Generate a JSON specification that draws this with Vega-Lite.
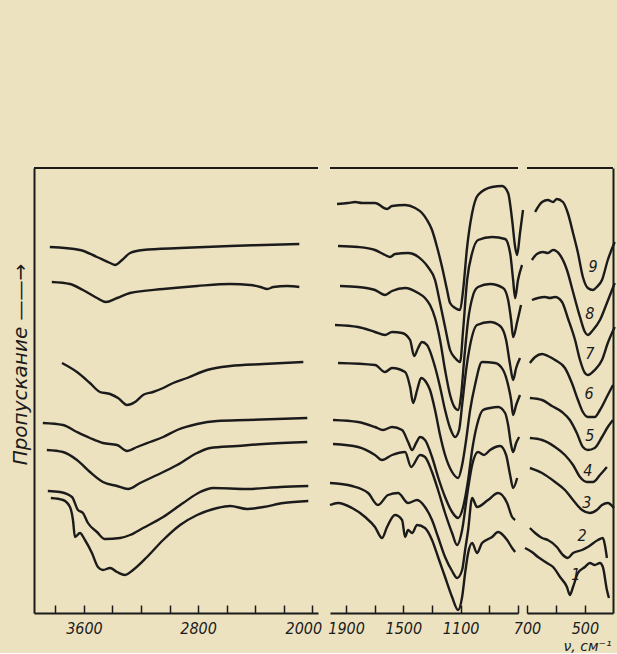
{
  "$schema": "https://vega.github.io/schema/vega-lite/v6.json",
  "background": "#ede2bf",
  "padding": {"left": 10, "top": 167, "right": 2, "bottom": 0},
  "bounds": "flush",
  "config": {
    "view": {"stroke": null},
    "axis": {
      "grid": false,
      "domainColor": "#1b1b1b",
      "domainWidth": 2,
      "tickColor": "#1b1b1b",
      "tickWidth": 1.5,
      "labelColor": "#1b1b1b",
      "labelFont": "DejaVu Sans Condensed",
      "labelFontStyle": "italic",
      "labelFontSize": 16,
      "labelFlush": false,
      "labelOverlap": false,
      "titleColor": "#1b1b1b",
      "titleFont": "DejaVu Sans",
      "titleFontStyle": "italic",
      "titleFontWeight": "normal"
    }
  },
  "datasets": {
    "spectra": [
      {"panel":1,"curve":8,"wn":3839,"T":366},{"panel":1,"curve":8,"wn":3628,"T":363},{"panel":1,"curve":8,"wn":3509,"T":356},{"panel":1,"curve":8,"wn":3417,"T":350},{"panel":1,"curve":8,"wn":3382,"T":348},{"panel":1,"curve":8,"wn":3333,"T":353},{"panel":1,"curve":8,"wn":3277,"T":360},{"panel":1,"curve":8,"wn":3186,"T":363},{"panel":1,"curve":8,"wn":2926,"T":365},{"panel":1,"curve":8,"wn":2575,"T":367},{"panel":1,"curve":8,"wn":2343,"T":368},{"panel":1,"curve":8,"wn":2091,"T":369},
      {"panel":1,"curve":7,"wn":3825,"T":331},{"panel":1,"curve":7,"wn":3698,"T":329},{"panel":1,"curve":7,"wn":3607,"T":323},{"panel":1,"curve":7,"wn":3509,"T":315},{"panel":1,"curve":7,"wn":3446,"T":311},{"panel":1,"curve":7,"wn":3368,"T":315},{"panel":1,"curve":7,"wn":3277,"T":320},{"panel":1,"curve":7,"wn":3045,"T":324},{"panel":1,"curve":7,"wn":2807,"T":327},{"panel":1,"curve":7,"wn":2575,"T":329},{"panel":1,"curve":7,"wn":2435,"T":328},{"panel":1,"curve":7,"wn":2364,"T":326},{"panel":1,"curve":7,"wn":2315,"T":324},{"panel":1,"curve":7,"wn":2273,"T":326},{"panel":1,"curve":7,"wn":2175,"T":327},{"panel":1,"curve":7,"wn":2091,"T":326},
      {"panel":1,"curve":5,"wn":3754,"T":250},{"panel":1,"curve":5,"wn":3649,"T":241},{"panel":1,"curve":5,"wn":3558,"T":230},{"panel":1,"curve":5,"wn":3488,"T":221},{"panel":1,"curve":5,"wn":3417,"T":219},{"panel":1,"curve":5,"wn":3361,"T":215},{"panel":1,"curve":5,"wn":3298,"T":208},{"panel":1,"curve":5,"wn":3242,"T":211},{"panel":1,"curve":5,"wn":3186,"T":218},{"panel":1,"curve":5,"wn":3116,"T":221},{"panel":1,"curve":5,"wn":3045,"T":225},{"panel":1,"curve":5,"wn":2975,"T":230},{"panel":1,"curve":5,"wn":2877,"T":235},{"panel":1,"curve":5,"wn":2737,"T":243},{"panel":1,"curve":5,"wn":2575,"T":247},{"panel":1,"curve":5,"wn":2343,"T":249},{"panel":1,"curve":5,"wn":2063,"T":251},
      {"panel":1,"curve":4,"wn":3888,"T":190},{"panel":1,"curve":4,"wn":3747,"T":188},{"panel":1,"curve":4,"wn":3649,"T":181},{"panel":1,"curve":4,"wn":3558,"T":175},{"panel":1,"curve":4,"wn":3467,"T":170},{"panel":1,"curve":4,"wn":3368,"T":168},{"panel":1,"curve":4,"wn":3298,"T":162},{"panel":1,"curve":4,"wn":3228,"T":166},{"panel":1,"curve":4,"wn":3137,"T":171},{"panel":1,"curve":4,"wn":3045,"T":176},{"panel":1,"curve":4,"wn":2947,"T":183},{"panel":1,"curve":4,"wn":2807,"T":189},{"panel":1,"curve":4,"wn":2666,"T":192},{"panel":1,"curve":4,"wn":2456,"T":193},{"panel":1,"curve":4,"wn":2035,"T":195},
      {"panel":1,"curve":3,"wn":3860,"T":163},{"panel":1,"curve":3,"wn":3747,"T":161},{"panel":1,"curve":3,"wn":3649,"T":153},{"panel":1,"curve":3,"wn":3558,"T":141},{"panel":1,"curve":3,"wn":3467,"T":131},{"panel":1,"curve":3,"wn":3368,"T":127},{"panel":1,"curve":3,"wn":3291,"T":124},{"panel":1,"curve":3,"wn":3207,"T":130},{"panel":1,"curve":3,"wn":3088,"T":138},{"panel":1,"curve":3,"wn":2947,"T":148},{"panel":1,"curve":3,"wn":2807,"T":160},{"panel":1,"curve":3,"wn":2716,"T":165},{"panel":1,"curve":3,"wn":2526,"T":167},{"panel":1,"curve":3,"wn":2343,"T":169},{"panel":1,"curve":3,"wn":2035,"T":171},
      {"panel":1,"curve":2,"wn":3853,"T":122},{"panel":1,"curve":2,"wn":3768,"T":121},{"panel":1,"curve":2,"wn":3684,"T":116},{"panel":1,"curve":2,"wn":3642,"T":103},{"panel":1,"curve":2,"wn":3607,"T":100},{"panel":1,"curve":2,"wn":3572,"T":90},{"panel":1,"curve":2,"wn":3509,"T":81},{"panel":1,"curve":2,"wn":3453,"T":74},{"panel":1,"curve":2,"wn":3347,"T":75},{"panel":1,"curve":2,"wn":3277,"T":78},{"panel":1,"curve":2,"wn":3186,"T":85},{"panel":1,"curve":2,"wn":3045,"T":96},{"panel":1,"curve":2,"wn":2905,"T":110},{"panel":1,"curve":2,"wn":2786,"T":121},{"panel":1,"curve":2,"wn":2694,"T":125},{"panel":1,"curve":2,"wn":2456,"T":124},{"panel":1,"curve":2,"wn":2224,"T":126},{"panel":1,"curve":2,"wn":2028,"T":127},
      {"panel":1,"curve":1,"wn":3832,"T":115},{"panel":1,"curve":1,"wn":3747,"T":113},{"panel":1,"curve":1,"wn":3698,"T":106},{"panel":1,"curve":1,"wn":3677,"T":93},{"panel":1,"curve":1,"wn":3663,"T":76},{"panel":1,"curve":1,"wn":3628,"T":80},{"panel":1,"curve":1,"wn":3593,"T":73},{"panel":1,"curve":1,"wn":3544,"T":60},{"panel":1,"curve":1,"wn":3502,"T":46},{"panel":1,"curve":1,"wn":3467,"T":43},{"panel":1,"curve":1,"wn":3417,"T":45},{"panel":1,"curve":1,"wn":3368,"T":41},{"panel":1,"curve":1,"wn":3312,"T":38},{"panel":1,"curve":1,"wn":3256,"T":43},{"panel":1,"curve":1,"wn":3158,"T":56},{"panel":1,"curve":1,"wn":3045,"T":73},{"panel":1,"curve":1,"wn":2926,"T":88},{"panel":1,"curve":1,"wn":2807,"T":98},{"panel":1,"curve":1,"wn":2666,"T":105},{"panel":1,"curve":1,"wn":2575,"T":107},{"panel":1,"curve":1,"wn":2456,"T":104},{"panel":1,"curve":1,"wn":2343,"T":106},{"panel":1,"curve":1,"wn":2203,"T":110},{"panel":1,"curve":1,"wn":2028,"T":112},

      {"panel":2,"curve":9,"wn":1963,"T":409},{"panel":2,"curve":9,"wn":1886,"T":410},{"panel":2,"curve":9,"wn":1837,"T":411},{"panel":2,"curve":9,"wn":1788,"T":410},{"panel":2,"curve":9,"wn":1698,"T":410},{"panel":2,"curve":9,"wn":1614,"T":404},{"panel":2,"curve":9,"wn":1579,"T":407},{"panel":2,"curve":9,"wn":1488,"T":408},{"panel":2,"curve":9,"wn":1418,"T":405},{"panel":2,"curve":9,"wn":1370,"T":400},{"panel":2,"curve":9,"wn":1335,"T":393},{"panel":2,"curve":9,"wn":1300,"T":383},{"panel":2,"curve":9,"wn":1265,"T":366},{"panel":2,"curve":9,"wn":1230,"T":346},{"panel":2,"curve":9,"wn":1195,"T":323},{"panel":2,"curve":9,"wn":1174,"T":310},{"panel":2,"curve":9,"wn":1139,"T":305},{"panel":2,"curve":9,"wn":1104,"T":303},{"panel":2,"curve":9,"wn":1083,"T":323},{"panel":2,"curve":9,"wn":1055,"T":366},{"panel":2,"curve":9,"wn":1020,"T":400},{"panel":2,"curve":9,"wn":979,"T":418},{"panel":2,"curve":9,"wn":881,"T":426},{"panel":2,"curve":9,"wn":811,"T":427},{"panel":2,"curve":9,"wn":769,"T":420},{"panel":2,"curve":9,"wn":741,"T":393},{"panel":2,"curve":9,"wn":720,"T":366},{"panel":2,"curve":9,"wn":706,"T":358},{"panel":2,"curve":9,"wn":686,"T":380},{"panel":2,"curve":9,"wn":665,"T":403},
      {"panel":2,"curve":8,"wn":1956,"T":367},{"panel":2,"curve":8,"wn":1816,"T":366},{"panel":2,"curve":8,"wn":1698,"T":363},{"panel":2,"curve":8,"wn":1628,"T":358},{"panel":2,"curve":8,"wn":1593,"T":356},{"panel":2,"curve":8,"wn":1558,"T":359},{"panel":2,"curve":8,"wn":1467,"T":360},{"panel":2,"curve":8,"wn":1370,"T":353},{"panel":2,"curve":8,"wn":1328,"T":346},{"panel":2,"curve":8,"wn":1279,"T":333},{"panel":2,"curve":8,"wn":1244,"T":310},{"panel":2,"curve":8,"wn":1209,"T":286},{"panel":2,"curve":8,"wn":1174,"T":263},{"panel":2,"curve":8,"wn":1139,"T":255},{"panel":2,"curve":8,"wn":1104,"T":251},{"panel":2,"curve":8,"wn":1083,"T":283},{"panel":2,"curve":8,"wn":1055,"T":333},{"panel":2,"curve":8,"wn":1020,"T":360},{"panel":2,"curve":8,"wn":979,"T":373},{"panel":2,"curve":8,"wn":881,"T":376},{"panel":2,"curve":8,"wn":790,"T":374},{"panel":2,"curve":8,"wn":755,"T":360},{"panel":2,"curve":8,"wn":734,"T":333},{"panel":2,"curve":8,"wn":720,"T":315},{"panel":2,"curve":8,"wn":700,"T":333},{"panel":2,"curve":8,"wn":672,"T":348},
      {"panel":2,"curve":7,"wn":1942,"T":327},{"panel":2,"curve":7,"wn":1816,"T":326},{"panel":2,"curve":7,"wn":1698,"T":323},{"panel":2,"curve":7,"wn":1628,"T":318},{"panel":2,"curve":7,"wn":1579,"T":322},{"panel":2,"curve":7,"wn":1488,"T":325},{"panel":2,"curve":7,"wn":1397,"T":320},{"panel":2,"curve":7,"wn":1349,"T":315},{"panel":2,"curve":7,"wn":1314,"T":308},{"panel":2,"curve":7,"wn":1279,"T":295},{"panel":2,"curve":7,"wn":1244,"T":273},{"panel":2,"curve":7,"wn":1209,"T":243},{"panel":2,"curve":7,"wn":1174,"T":218},{"panel":2,"curve":7,"wn":1139,"T":205},{"panel":2,"curve":7,"wn":1118,"T":203},{"panel":2,"curve":7,"wn":1097,"T":218},{"panel":2,"curve":7,"wn":1076,"T":253},{"panel":2,"curve":7,"wn":1048,"T":293},{"panel":2,"curve":7,"wn":1013,"T":318},{"panel":2,"curve":7,"wn":979,"T":326},{"panel":2,"curve":7,"wn":895,"T":329},{"panel":2,"curve":7,"wn":804,"T":325},{"panel":2,"curve":7,"wn":769,"T":313},{"panel":2,"curve":7,"wn":748,"T":293},{"panel":2,"curve":7,"wn":734,"T":276},{"panel":2,"curve":7,"wn":706,"T":291},{"panel":2,"curve":7,"wn":679,"T":308},
      {"panel":2,"curve":6,"wn":1977,"T":288},{"panel":2,"curve":6,"wn":1816,"T":286},{"panel":2,"curve":6,"wn":1698,"T":281},{"panel":2,"curve":6,"wn":1628,"T":278},{"panel":2,"curve":6,"wn":1579,"T":281},{"panel":2,"curve":6,"wn":1509,"T":280},{"panel":2,"curve":6,"wn":1453,"T":273},{"panel":2,"curve":6,"wn":1425,"T":257},{"panel":2,"curve":6,"wn":1397,"T":265},{"panel":2,"curve":6,"wn":1370,"T":271},{"panel":2,"curve":6,"wn":1335,"T":268},{"panel":2,"curve":6,"wn":1279,"T":246},{"panel":2,"curve":6,"wn":1244,"T":226},{"panel":2,"curve":6,"wn":1209,"T":203},{"panel":2,"curve":6,"wn":1174,"T":185},{"panel":2,"curve":6,"wn":1139,"T":176},{"panel":2,"curve":6,"wn":1111,"T":183},{"panel":2,"curve":6,"wn":1090,"T":208},{"panel":2,"curve":6,"wn":1062,"T":243},{"panel":2,"curve":6,"wn":1034,"T":268},{"panel":2,"curve":6,"wn":986,"T":288},{"panel":2,"curve":6,"wn":895,"T":291},{"panel":2,"curve":6,"wn":825,"T":287},{"panel":2,"curve":6,"wn":783,"T":273},{"panel":2,"curve":6,"wn":755,"T":248},{"panel":2,"curve":6,"wn":734,"T":233},{"panel":2,"curve":6,"wn":713,"T":245},{"panel":2,"curve":6,"wn":686,"T":255},
      {"panel":2,"curve":5,"wn":1956,"T":250},{"panel":2,"curve":5,"wn":1698,"T":248},{"panel":2,"curve":5,"wn":1628,"T":241},{"panel":2,"curve":5,"wn":1579,"T":245},{"panel":2,"curve":5,"wn":1488,"T":241},{"panel":2,"curve":5,"wn":1453,"T":226},{"panel":2,"curve":5,"wn":1432,"T":210},{"panel":2,"curve":5,"wn":1404,"T":223},{"panel":2,"curve":5,"wn":1376,"T":235},{"panel":2,"curve":5,"wn":1342,"T":231},{"panel":2,"curve":5,"wn":1314,"T":223},{"panel":2,"curve":5,"wn":1279,"T":203},{"panel":2,"curve":5,"wn":1244,"T":178},{"panel":2,"curve":5,"wn":1209,"T":158},{"panel":2,"curve":5,"wn":1160,"T":141},{"panel":2,"curve":5,"wn":1118,"T":135},{"panel":2,"curve":5,"wn":1090,"T":148},{"panel":2,"curve":5,"wn":1062,"T":173},{"panel":2,"curve":5,"wn":1034,"T":203},{"panel":2,"curve":5,"wn":1000,"T":228},{"panel":2,"curve":5,"wn":951,"T":251},{"panel":2,"curve":5,"wn":860,"T":250},{"panel":2,"curve":5,"wn":804,"T":243},{"panel":2,"curve":5,"wn":769,"T":228},{"panel":2,"curve":5,"wn":748,"T":213},{"panel":2,"curve":5,"wn":734,"T":198},{"panel":2,"curve":5,"wn":713,"T":208},{"panel":2,"curve":5,"wn":686,"T":218},
      {"panel":2,"curve":4,"wn":1991,"T":193},{"panel":2,"curve":4,"wn":1816,"T":191},{"panel":2,"curve":4,"wn":1698,"T":186},{"panel":2,"curve":4,"wn":1642,"T":183},{"panel":2,"curve":4,"wn":1579,"T":186},{"panel":2,"curve":4,"wn":1509,"T":183},{"panel":2,"curve":4,"wn":1467,"T":171},{"panel":2,"curve":4,"wn":1439,"T":163},{"panel":2,"curve":4,"wn":1411,"T":170},{"panel":2,"curve":4,"wn":1383,"T":176},{"panel":2,"curve":4,"wn":1349,"T":173},{"panel":2,"curve":4,"wn":1300,"T":156},{"panel":2,"curve":4,"wn":1258,"T":136},{"panel":2,"curve":4,"wn":1209,"T":116},{"panel":2,"curve":4,"wn":1160,"T":101},{"panel":2,"curve":4,"wn":1118,"T":95},{"panel":2,"curve":4,"wn":1083,"T":106},{"panel":2,"curve":4,"wn":1048,"T":133},{"panel":2,"curve":4,"wn":1020,"T":163},{"panel":2,"curve":4,"wn":986,"T":188},{"panel":2,"curve":4,"wn":944,"T":203},{"panel":2,"curve":4,"wn":895,"T":205},{"panel":2,"curve":4,"wn":839,"T":206},{"panel":2,"curve":4,"wn":790,"T":200},{"panel":2,"curve":4,"wn":769,"T":188},{"panel":2,"curve":4,"wn":748,"T":168},{"panel":2,"curve":4,"wn":734,"T":161},{"panel":2,"curve":4,"wn":713,"T":170},{"panel":2,"curve":4,"wn":692,"T":176},
      {"panel":2,"curve":3,"wn":1991,"T":169},{"panel":2,"curve":3,"wn":1816,"T":166},{"panel":2,"curve":3,"wn":1698,"T":158},{"panel":2,"curve":3,"wn":1649,"T":153},{"panel":2,"curve":3,"wn":1579,"T":158},{"panel":2,"curve":3,"wn":1488,"T":161},{"panel":2,"curve":3,"wn":1446,"T":146},{"panel":2,"curve":3,"wn":1383,"T":158},{"panel":2,"curve":3,"wn":1349,"T":156},{"panel":2,"curve":3,"wn":1300,"T":141},{"panel":2,"curve":3,"wn":1258,"T":123},{"panel":2,"curve":3,"wn":1209,"T":100},{"panel":2,"curve":3,"wn":1160,"T":80},{"panel":2,"curve":3,"wn":1125,"T":68},{"panel":2,"curve":3,"wn":1090,"T":83},{"panel":2,"curve":3,"wn":1055,"T":118},{"panel":2,"curve":3,"wn":1020,"T":148},{"panel":2,"curve":3,"wn":979,"T":161},{"panel":2,"curve":3,"wn":937,"T":158},{"panel":2,"curve":3,"wn":895,"T":163},{"panel":2,"curve":3,"wn":825,"T":167},{"panel":2,"curve":3,"wn":783,"T":158},{"panel":2,"curve":3,"wn":755,"T":138},{"panel":2,"curve":3,"wn":734,"T":125},{"panel":2,"curve":3,"wn":706,"T":135},
      {"panel":2,"curve":2,"wn":2012,"T":130},{"panel":2,"curve":2,"wn":1858,"T":127},{"panel":2,"curve":2,"wn":1746,"T":120},{"panel":2,"curve":2,"wn":1677,"T":108},{"panel":2,"curve":2,"wn":1607,"T":118},{"panel":2,"curve":2,"wn":1537,"T":120},{"panel":2,"curve":2,"wn":1467,"T":110},{"panel":2,"curve":2,"wn":1404,"T":113},{"panel":2,"curve":2,"wn":1349,"T":106},{"panel":2,"curve":2,"wn":1300,"T":93},{"panel":2,"curve":2,"wn":1258,"T":76},{"panel":2,"curve":2,"wn":1209,"T":56},{"panel":2,"curve":2,"wn":1160,"T":42},{"panel":2,"curve":2,"wn":1125,"T":35},{"panel":2,"curve":2,"wn":1090,"T":43},{"panel":2,"curve":2,"wn":1069,"T":63},{"panel":2,"curve":2,"wn":1048,"T":83},{"panel":2,"curve":2,"wn":1020,"T":115},{"panel":2,"curve":2,"wn":986,"T":106},{"panel":2,"curve":2,"wn":909,"T":113},{"panel":2,"curve":2,"wn":839,"T":120},{"panel":2,"curve":2,"wn":776,"T":110},{"panel":2,"curve":2,"wn":741,"T":96},{"panel":2,"curve":2,"wn":720,"T":93},
      {"panel":2,"curve":1,"wn":2012,"T":108},{"panel":2,"curve":1,"wn":1956,"T":110},{"panel":2,"curve":1,"wn":1858,"T":105},{"panel":2,"curve":1,"wn":1767,"T":96},{"panel":2,"curve":1,"wn":1698,"T":86},{"panel":2,"curve":1,"wn":1649,"T":75},{"panel":2,"curve":1,"wn":1614,"T":86},{"panel":2,"curve":1,"wn":1558,"T":98},{"panel":2,"curve":1,"wn":1509,"T":93},{"panel":2,"curve":1,"wn":1488,"T":76},{"panel":2,"curve":1,"wn":1467,"T":83},{"panel":2,"curve":1,"wn":1439,"T":80},{"panel":2,"curve":1,"wn":1404,"T":88},{"panel":2,"curve":1,"wn":1349,"T":85},{"panel":2,"curve":1,"wn":1300,"T":73},{"panel":2,"curve":1,"wn":1258,"T":56},{"panel":2,"curve":1,"wn":1209,"T":36},{"panel":2,"curve":1,"wn":1160,"T":16},{"panel":2,"curve":1,"wn":1118,"T":3},{"panel":2,"curve":1,"wn":1090,"T":16},{"panel":2,"curve":1,"wn":1069,"T":40},{"panel":2,"curve":1,"wn":1048,"T":60},{"panel":2,"curve":1,"wn":1020,"T":70},{"panel":2,"curve":1,"wn":986,"T":60},{"panel":2,"curve":1,"wn":951,"T":70},{"panel":2,"curve":1,"wn":881,"T":76},{"panel":2,"curve":1,"wn":839,"T":81},{"panel":2,"curve":1,"wn":776,"T":73},{"panel":2,"curve":1,"wn":741,"T":65},{"panel":2,"curve":1,"wn":720,"T":61},

      {"panel":3,"curve":9,"wn":672,"T":401},{"panel":3,"curve":9,"wn":648,"T":411},{"panel":3,"curve":9,"wn":628,"T":413},{"panel":3,"curve":9,"wn":610,"T":411},{"panel":3,"curve":9,"wn":597,"T":414},{"panel":3,"curve":9,"wn":576,"T":411},{"panel":3,"curve":9,"wn":559,"T":400},{"panel":3,"curve":9,"wn":541,"T":380},{"panel":3,"curve":9,"wn":524,"T":360},{"panel":3,"curve":9,"wn":507,"T":336},{"panel":3,"curve":9,"wn":490,"T":325},{"panel":3,"curve":9,"wn":472,"T":323},{"panel":3,"curve":9,"wn":459,"T":326},{"panel":3,"curve":9,"wn":441,"T":333},{"panel":3,"curve":9,"wn":421,"T":353},{"panel":3,"curve":9,"wn":397,"T":371},
      {"panel":3,"curve":8,"wn":683,"T":353},{"panel":3,"curve":8,"wn":666,"T":359},{"panel":3,"curve":8,"wn":645,"T":361},{"panel":3,"curve":8,"wn":628,"T":360},{"panel":3,"curve":8,"wn":610,"T":363},{"panel":3,"curve":8,"wn":586,"T":358},{"panel":3,"curve":8,"wn":562,"T":343},{"panel":3,"curve":8,"wn":541,"T":321},{"panel":3,"curve":8,"wn":517,"T":296},{"panel":3,"curve":8,"wn":500,"T":281},{"panel":3,"curve":8,"wn":490,"T":278},{"panel":3,"curve":8,"wn":472,"T":283},{"panel":3,"curve":8,"wn":448,"T":293},{"panel":3,"curve":8,"wn":424,"T":310},{"panel":3,"curve":8,"wn":397,"T":330},
      {"panel":3,"curve":7,"wn":683,"T":313},{"panel":3,"curve":7,"wn":662,"T":315},{"panel":3,"curve":7,"wn":638,"T":316},{"panel":3,"curve":7,"wn":621,"T":315},{"panel":3,"curve":7,"wn":603,"T":316},{"panel":3,"curve":7,"wn":579,"T":311},{"panel":3,"curve":7,"wn":559,"T":295},{"panel":3,"curve":7,"wn":534,"T":273},{"panel":3,"curve":7,"wn":517,"T":253},{"panel":3,"curve":7,"wn":500,"T":240},{"panel":3,"curve":7,"wn":490,"T":238},{"panel":3,"curve":7,"wn":466,"T":243},{"panel":3,"curve":7,"wn":441,"T":253},{"panel":3,"curve":7,"wn":421,"T":270},{"panel":3,"curve":7,"wn":397,"T":286},
      {"panel":3,"curve":6,"wn":690,"T":250},{"panel":3,"curve":6,"wn":672,"T":256},{"panel":3,"curve":6,"wn":648,"T":259},{"panel":3,"curve":6,"wn":628,"T":257},{"panel":3,"curve":6,"wn":603,"T":253},{"panel":3,"curve":6,"wn":569,"T":245},{"panel":3,"curve":6,"wn":545,"T":230},{"panel":3,"curve":6,"wn":524,"T":213},{"panel":3,"curve":6,"wn":507,"T":201},{"panel":3,"curve":6,"wn":490,"T":196},{"panel":3,"curve":6,"wn":466,"T":196},{"panel":3,"curve":6,"wn":448,"T":203},{"panel":3,"curve":6,"wn":421,"T":218},{"panel":3,"curve":6,"wn":403,"T":228},
      {"panel":3,"curve":5,"wn":690,"T":215},{"panel":3,"curve":5,"wn":648,"T":213},{"panel":3,"curve":5,"wn":614,"T":207},{"panel":3,"curve":5,"wn":579,"T":201},{"panel":3,"curve":5,"wn":552,"T":193},{"panel":3,"curve":5,"wn":528,"T":180},{"panel":3,"curve":5,"wn":507,"T":166},{"panel":3,"curve":5,"wn":490,"T":163},{"panel":3,"curve":5,"wn":466,"T":165},{"panel":3,"curve":5,"wn":441,"T":176},{"panel":3,"curve":5,"wn":421,"T":186},{"panel":3,"curve":5,"wn":403,"T":193},
      {"panel":3,"curve":4,"wn":690,"T":175},{"panel":3,"curve":4,"wn":648,"T":173},{"panel":3,"curve":4,"wn":603,"T":166},{"panel":3,"curve":4,"wn":569,"T":158},{"panel":3,"curve":4,"wn":541,"T":148},{"panel":3,"curve":4,"wn":517,"T":136},{"panel":3,"curve":4,"wn":493,"T":131},{"panel":3,"curve":4,"wn":472,"T":131},{"panel":3,"curve":4,"wn":448,"T":138},{"panel":3,"curve":4,"wn":424,"T":146},
      {"panel":3,"curve":3,"wn":690,"T":145},{"panel":3,"curve":3,"wn":648,"T":140},{"panel":3,"curve":3,"wn":603,"T":131},{"panel":3,"curve":3,"wn":569,"T":123},{"panel":3,"curve":3,"wn":541,"T":113},{"panel":3,"curve":3,"wn":510,"T":103},{"panel":3,"curve":3,"wn":483,"T":100},{"panel":3,"curve":3,"wn":459,"T":103},{"panel":3,"curve":3,"wn":441,"T":108},{"panel":3,"curve":3,"wn":421,"T":110},{"panel":3,"curve":3,"wn":400,"T":105},
      {"panel":3,"curve":2,"wn":690,"T":85},{"panel":3,"curve":2,"wn":672,"T":80},{"panel":3,"curve":2,"wn":648,"T":75},{"panel":3,"curve":2,"wn":628,"T":73},{"panel":3,"curve":2,"wn":597,"T":66},{"panel":3,"curve":2,"wn":576,"T":58},{"panel":3,"curve":2,"wn":559,"T":55},{"panel":3,"curve":2,"wn":541,"T":60},{"panel":3,"curve":2,"wn":510,"T":63},{"panel":3,"curve":2,"wn":490,"T":66},{"panel":3,"curve":2,"wn":455,"T":73},{"panel":3,"curve":2,"wn":438,"T":75},{"panel":3,"curve":2,"wn":431,"T":68},{"panel":3,"curve":2,"wn":424,"T":55},
      {"panel":3,"curve":1,"wn":707,"T":65},{"panel":3,"curve":1,"wn":683,"T":61},{"panel":3,"curve":1,"wn":662,"T":56},{"panel":3,"curve":1,"wn":631,"T":50},{"panel":3,"curve":1,"wn":610,"T":46},{"panel":3,"curve":1,"wn":586,"T":36},{"panel":3,"curve":1,"wn":562,"T":26},{"panel":3,"curve":1,"wn":552,"T":18},{"panel":3,"curve":1,"wn":541,"T":26},{"panel":3,"curve":1,"wn":524,"T":40},{"panel":3,"curve":1,"wn":500,"T":46},{"panel":3,"curve":1,"wn":483,"T":50},{"panel":3,"curve":1,"wn":466,"T":48},{"panel":3,"curve":1,"wn":448,"T":50},{"panel":3,"curve":1,"wn":438,"T":46},{"panel":3,"curve":1,"wn":424,"T":23},{"panel":3,"curve":1,"wn":417,"T":15}
    ],
    "labels": [
      {"label":"9","wn":472,"T":346},{"label":"8","wn":483,"T":299},{"label":"7","wn":483,"T":259},{"label":"6","wn":486,"T":219},{"label":"5","wn":483,"T":177},{"label":"4","wn":490,"T":142},{"label":"3","wn":493,"T":110},{"label":"2","wn":510,"T":77},{"label":"1","wn":531,"T":38}
    ],
    "top": [{"T": 445}]
  },
  "spacing": 12,
  "hconcat": [
    {
      "width": 284,
      "height": 445,
      "layer": [
        {
          "data": {"name": "top"},
          "mark": {"type": "rule", "color": "#1b1b1b", "strokeWidth": 1.8},
          "encoding": {
            "y": {"field": "T", "type": "quantitative",
                  "scale": {"domain": [0, 445], "nice": false, "zero": false},
                  "axis": {"orient": "left", "ticks": false, "labels": false,
                           "title": "Пропускание  ——→", "titleFontSize": 20, "titleAngle": -90,
                           "titleX": -14, "titleY": 196, "titleAlign": "center", "titleBaseline": "middle"}}
          }
        },
        {
          "data": {"name": "spectra"},
          "transform": [{"filter": "datum.panel == 1"}],
          "mark": {"type": "line", "color": "#1b1b1b", "strokeWidth": 2.4, "interpolate": "monotone"},
          "encoding": {
            "x": {"field": "wn", "type": "quantitative",
                  "scale": {"domain": [3950, 1960], "nice": false, "zero": false},
                  "axis": {"orient": "bottom", "title": null, "tickSize": -8, "labelPadding": 15,
                           "values": [3800, 3600, 3400, 3200, 3000, 2800, 2600, 2400, 2200, 2000],
                           "labelExpr": "indexof([3600, 2800, 2000], datum.value) >= 0 ? '' + datum.value : ''",
                           "labelOffset": {"condition": {"test": "datum.value == 2000", "value": -9}, "value": 0}}},
            "y": {"field": "T", "type": "quantitative",
                  "scale": {"domain": [0, 445], "nice": false, "zero": false},
                  "axis": {"orient": "left", "ticks": false, "labels": false,
                           "title": "Пропускание  ——→", "titleFontSize": 20, "titleAngle": -90,
                           "titleX": -14, "titleY": 196, "titleAlign": "center", "titleBaseline": "middle"}},
            "detail": {"field": "curve"}
          }
        }
      ]
    },
    {
      "spacing": 9,
      "bounds": "flush",
      "hconcat": [
        {
          "width": 188,
          "height": 445,
          "layer": [
            {
              "data": {"name": "top"},
              "mark": {"type": "rule", "color": "#1b1b1b", "strokeWidth": 1.8},
              "encoding": {"y": {"field": "T", "type": "quantitative", "scale": {"domain": [0, 445], "nice": false, "zero": false}, "axis": null}}
            },
            {
              "data": {"name": "spectra"},
              "transform": [{"filter": "datum.panel == 2"}],
              "mark": {"type": "line", "color": "#1b1b1b", "strokeWidth": 2.4, "interpolate": "monotone"},
              "encoding": {
                "x": {"field": "wn", "type": "quantitative",
                      "scale": {"domain": [2012, 700], "nice": false, "zero": false},
                      "axis": {"orient": "bottom", "title": null, "tickSize": -8, "labelPadding": 15,
                               "values": [1900, 1700, 1500, 1300, 1100, 900, 700],
                               "labelExpr": "indexof([1900, 1500, 1100], datum.value) >= 0 ? '' + datum.value : ''"}},
                "y": {"field": "T", "type": "quantitative",
                      "scale": {"domain": [0, 445], "nice": false, "zero": false},
                      "axis": null},
                "detail": {"field": "curve"}
              }
            }
          ]
        },
        {
          "width": 86,
          "height": 445,
          "layer": [
            {
              "data": {"name": "top"},
              "mark": {"type": "rule", "color": "#1b1b1b", "strokeWidth": 1.8},
              "encoding": {"y": {"field": "T", "type": "quantitative",
                      "scale": {"domain": [0, 445], "nice": false, "zero": false},
                      "axis": {"orient": "right", "ticks": false, "labels": false, "title": null}}}
            },
            {
              "data": {"name": "spectra"},
              "transform": [{"filter": "datum.panel == 3"}],
              "mark": {"type": "line", "color": "#1b1b1b", "strokeWidth": 2.4, "interpolate": "monotone"},
              "encoding": {
                "x": {"field": "wn", "type": "quantitative",
                      "scale": {"domain": [700, 403], "nice": false, "zero": false},
                      "axis": {"orient": "bottom", "tickSize": -8, "labelPadding": 15,
                               "values": [700, 600, 500],
                               "labelExpr": "indexof([700, 500], datum.value) >= 0 ? '' + datum.value : ''",
                               "title": "ν, см⁻¹", "titleFontSize": 14, "titleX": 84, "titleY": 37,
                               "titleAlign": "right", "titleBaseline": "alphabetic"}},
                "y": {"field": "T", "type": "quantitative",
                      "scale": {"domain": [0, 445], "nice": false, "zero": false},
                      "axis": {"orient": "right", "ticks": false, "labels": false, "title": null}},
                "detail": {"field": "curve"}
              }
            },
            {
              "data": {"name": "labels"},
              "mark": {"type": "text", "font": "DejaVu Sans Condensed", "fontStyle": "italic", "fontSize": 16, "color": "#1b1b1b"},
              "encoding": {
                "x": {"field": "wn", "type": "quantitative",
                      "scale": {"domain": [700, 403], "nice": false, "zero": false},
                      "axis": {"orient": "bottom", "tickSize": -8, "labelPadding": 15,
                               "values": [700, 600, 500],
                               "labelExpr": "indexof([700, 500], datum.value) >= 0 ? '' + datum.value : ''",
                               "title": "ν, см⁻¹", "titleFontSize": 14, "titleX": 84, "titleY": 37,
                               "titleAlign": "right", "titleBaseline": "alphabetic"}},
                "y": {"field": "T", "type": "quantitative",
                      "scale": {"domain": [0, 445], "nice": false, "zero": false},
                      "axis": {"orient": "right", "ticks": false, "labels": false, "title": null}},
                "text": {"field": "label"}
              }
            }
          ]
        }
      ]
    }
  ]
}
